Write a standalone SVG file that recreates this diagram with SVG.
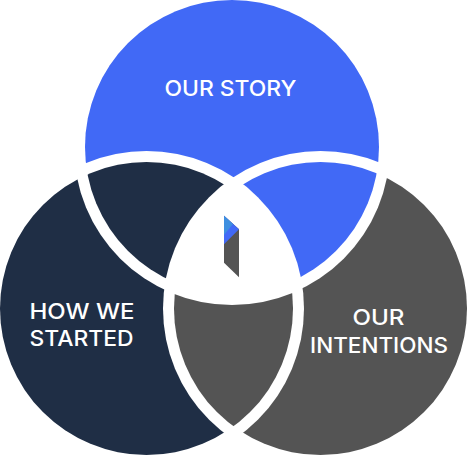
<svg xmlns="http://www.w3.org/2000/svg" width="467" height="455" viewBox="0 0 467 455">
  <style>
    .blue{fill:#4169f6}
    .navy{fill:#1f2e45}
    .gray{fill:#545454}
    .label{font-family:"Inter","Liberation Sans",sans-serif;font-size:21.500px;font-weight:500;fill:#fff;text-anchor:middle}
  </style>
  <defs>
    <circle id="t" cx="232" cy="147" r="147"/>
    <circle id="l" cx="146.500" cy="308.500" r="146.500"/>
    <circle id="r" cx="320.500" cy="308.500" r="146.500"/>
    <clipPath id="inT"><use href="#t"/></clipPath>
    <clipPath id="inL"><use href="#l"/></clipPath>
    <clipPath id="inR"><use href="#r"/></clipPath>
    <mask id="noT" maskUnits="userSpaceOnUse" x="0" y="0" width="467" height="455"><rect width="467" height="455" fill="#fff"/><circle cx="232" cy="147" r="158"/></mask>
    <mask id="noL" maskUnits="userSpaceOnUse" x="0" y="0" width="467" height="455"><rect width="467" height="455" fill="#fff"/><circle cx="146.500" cy="308.500" r="157.500"/></mask>
    <mask id="noR" maskUnits="userSpaceOnUse" x="0" y="0" width="467" height="455"><rect width="467" height="455" fill="#fff"/><circle cx="320.500" cy="308.500" r="157.500"/></mask>
  </defs>
  <rect width="467" height="455" fill="#fff"/>
  <g id="our-story">
    <g mask="url(#noL)"><g mask="url(#noR)"><use href="#t" class="blue"/></g></g>
    <g mask="url(#noL)"><use href="#r" class="blue" clip-path="url(#inT)"/></g>
    <text class="label" x="230.500" y="96" textLength="132" lengthAdjust="spacingAndGlyphs">OUR STORY</text>
  </g>
  <g id="how-we-started">
    <g mask="url(#noT)"><g mask="url(#noR)"><use href="#l" class="navy"/></g></g>
    <g mask="url(#noR)"><use href="#t" class="navy" clip-path="url(#inL)"/></g>
    <text class="label" x="82" y="319" textLength="105" lengthAdjust="spacingAndGlyphs">HOW WE</text>
    <text class="label" x="81.500" y="346" textLength="104" lengthAdjust="spacingAndGlyphs">STARTED</text>
  </g>
  <g id="our-intentions">
    <g mask="url(#noT)"><g mask="url(#noL)"><use href="#r" class="gray"/></g></g>
    <g mask="url(#noT)"><use href="#l" class="gray" clip-path="url(#inR)"/></g>
    <text class="label" x="378.500" y="325" textLength="52" lengthAdjust="spacingAndGlyphs">OUR</text>
    <text class="label" x="379" y="352.500" textLength="138" lengthAdjust="spacingAndGlyphs">INTENTIONS</text>
  </g>
  <g id="logo">
    <polygon points="224,215.700 239,229.300 239,277.300 224,262.700" fill="#545454"/>
    <polygon points="224,215.700 239,229.300 224,244.300" class="blue"/>
    <polygon points="224,215.700 233,224 224,235" fill="#3e8fe0"/>
  </g>
</svg>
